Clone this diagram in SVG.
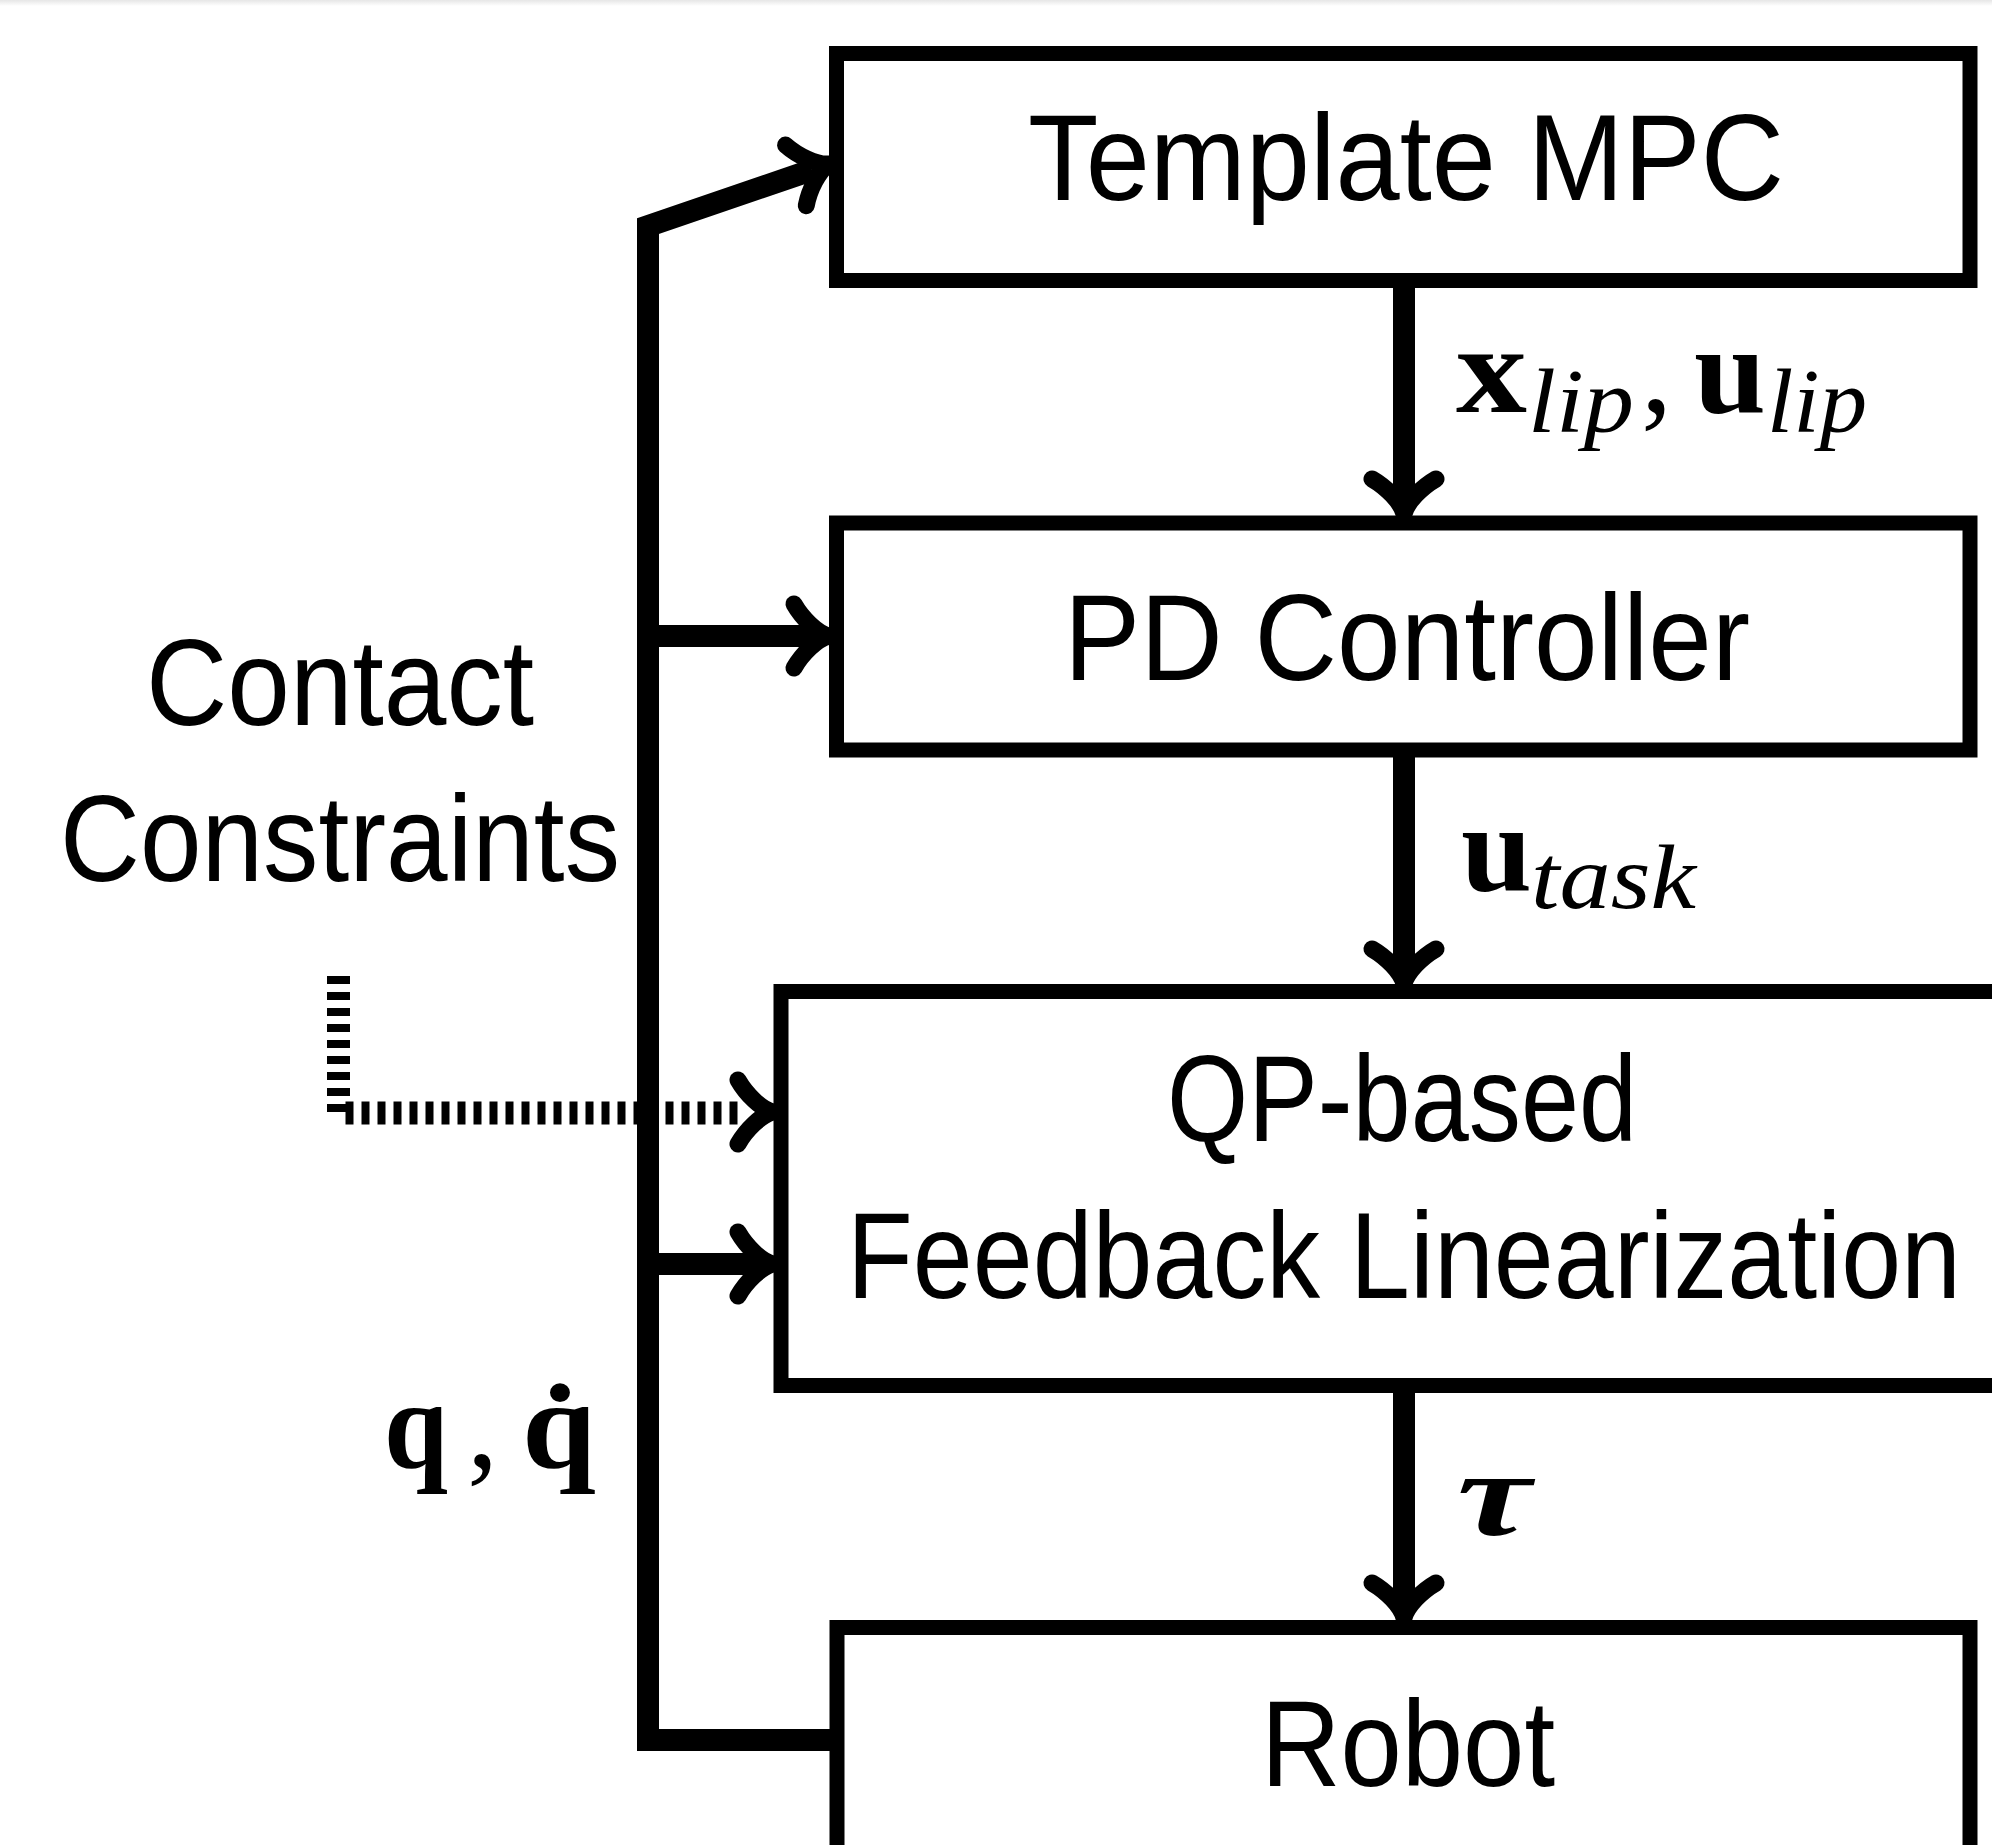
<svg xmlns="http://www.w3.org/2000/svg" xmlns:xlink="http://www.w3.org/1999/xlink" width="1992" height="1845" viewBox="0 0 1992 1845">
<style>
.box{fill:#fff;stroke:#000;stroke-width:15}
.lbl{font-family:"Liberation Sans",Arial,sans-serif;font-size:122px;fill:#000;text-anchor:middle}
.mb{font-family:"Liberation Serif","Times New Roman",serif;font-weight:bold;font-size:125px;fill:#000}
.mr{font-family:"Liberation Serif","Times New Roman",serif;font-size:125px;fill:#000}
.mi{font-family:"Liberation Serif","Times New Roman",serif;font-style:italic;font-size:90px;fill:#000}
.mbi{font-family:"Liberation Serif","Times New Roman",serif;font-style:italic;font-weight:bold;font-size:120px;fill:#000}
.wire{fill:none;stroke:#000;stroke-width:22;stroke-linejoin:miter}
.dash{fill:none;stroke:#000;stroke-width:23;stroke-dasharray:8 8}
.head{fill:none;stroke:#000;stroke-width:17;stroke-linecap:round;stroke-linejoin:round}
</style>
<defs>
<linearGradient id="topshade" x1="0" y1="0" x2="0" y2="1">
<stop offset="0" stop-color="#e6e6e6"/>
<stop offset="1" stop-color="#ffffff"/>
</linearGradient>
<path id="ah" class="head" d="M-35,-32 C-27,-18 -12,-3 0,0 M-35,32 C-27,18 -12,3 0,0"/>
</defs>
<rect x="0" y="0" width="1992" height="1845" fill="#fff"/>
<rect x="0" y="0" width="1992" height="6" fill="url(#topshade)"/>

<g id="connectors">
<path class="wire" d="M837,1740 H648 V226 L812,170"/>
<path class="wire" d="M648,636 H815"/>
<path class="wire" d="M648,1264 H759"/>
<path class="dash" d="M338.5,976 V1113 H740"/>
<path class="wire" d="M1404,288 V500"/>
<path class="wire" d="M1404,757 V970"/>
<path class="wire" d="M1404,1393 V1604"/>
<use xlink:href="#ah" transform="translate(829,164) rotate(-18.9)"/>
<use xlink:href="#ah" transform="translate(829,636)"/>
<use xlink:href="#ah" transform="translate(773,1112)"/>
<use xlink:href="#ah" transform="translate(773,1264)"/>
<use xlink:href="#ah" transform="translate(1404,514) rotate(90)"/>
<use xlink:href="#ah" transform="translate(1404,984) rotate(90)"/>
<use xlink:href="#ah" transform="translate(1404,1618) rotate(90)"/>
</g>

<g id="template-mpc">
<rect class="box" x="836.5" y="53.5" width="1133.5" height="227"/>
<text class="lbl" x="1406" y="200" textLength="756" lengthAdjust="spacingAndGlyphs">Template MPC</text>
</g>

<g id="pd-controller">
<rect class="box" x="836.5" y="523" width="1133.5" height="227"/>
<text class="lbl" x="1407" y="680" textLength="686" lengthAdjust="spacingAndGlyphs">PD Controller</text>
</g>

<g id="qp-fl">
<rect class="box" x="781" y="991.5" width="1260" height="394"/>
<text class="lbl" x="1402" y="1141" textLength="470" lengthAdjust="spacingAndGlyphs">QP-based</text>
<text class="lbl" x="1404" y="1298" textLength="1114" lengthAdjust="spacingAndGlyphs">Feedback Linearization</text>
</g>

<g id="robot">
<rect class="box" x="837" y="1627.5" width="1133" height="300"/>
<text class="lbl" x="1408" y="1786" textLength="294" lengthAdjust="spacingAndGlyphs">Robot</text>
</g>

<g id="contact-constraints">
<text class="lbl" x="340" y="725" textLength="388" lengthAdjust="spacingAndGlyphs">Contact</text>
<text class="lbl" x="340" y="881" textLength="560" lengthAdjust="spacingAndGlyphs">Constraints</text>
</g>

<g id="edge-labels">
<text class="mb" x="1456" y="412" textLength="71" lengthAdjust="spacingAndGlyphs">x</text>
<text class="mi" x="1528" y="432" textLength="106" lengthAdjust="spacingAndGlyphs">lip</text>
<text class="mr" x="1641" y="412">,</text>
<text class="mb" x="1694" y="412" textLength="72" lengthAdjust="spacingAndGlyphs">u</text>
<text class="mi" x="1767" y="432" textLength="100" lengthAdjust="spacingAndGlyphs">lip</text>

<text class="mb" x="1461" y="890" textLength="71" lengthAdjust="spacingAndGlyphs">u</text>
<text class="mi" x="1531" y="908" textLength="165" lengthAdjust="spacingAndGlyphs">task</text>

<text class="mbi" x="1457" y="1535" textLength="74" lengthAdjust="spacingAndGlyphs">τ</text>

<text class="mb" x="384" y="1467" textLength="64" lengthAdjust="spacingAndGlyphs">q</text>
<text class="mr" x="467" y="1467">,</text>
<text class="mb" x="522" y="1467" textLength="74" lengthAdjust="spacingAndGlyphs">q̇</text>
</g>
</svg>
